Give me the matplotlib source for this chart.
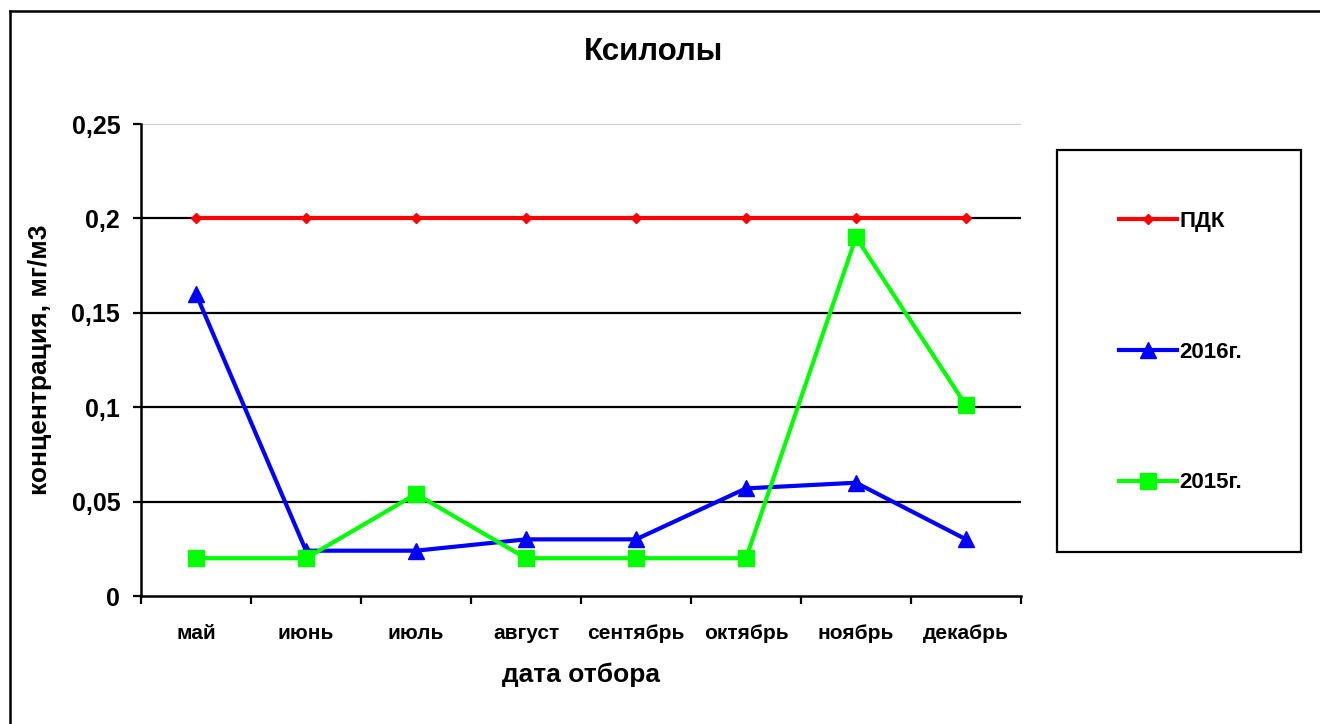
import matplotlib
matplotlib.use("Agg")
import matplotlib.pyplot as plt
from matplotlib.lines import Line2D
from matplotlib.patches import Rectangle
import numpy as np

plt.rcParams['font.family'] = ['Liberation Sans', 'DejaVu Sans']
plt.rcParams['font.weight'] = 'bold'

months = ["май", "июнь", "июль", "август", "сентябрь", "октябрь", "ноябрь", "декабрь"]
pdk = [0.2, 0.2, 0.2, 0.2, 0.2, 0.2, 0.2, 0.2]
y2016 = [0.16, 0.024, 0.024, 0.03, 0.03, 0.057, 0.06, 0.03]
y2015 = [0.02, 0.02, 0.054, 0.02, 0.02, 0.02, 0.19, 0.101]
yticks = [0, 0.05, 0.1, 0.15, 0.2, 0.25]
ytick_labels = ["0", "0,05", "0,1", "0,15", "0,2", "0,25"]

W, H = 1320, 724
fig = plt.figure(figsize=(W / 100, H / 100), dpi=100)
fig.patch.set_facecolor("white")

L, R, T, B = 141, 1021, 124, 596
ax = fig.add_axes([L / W, 1 - B / H, (R - L) / W, (B - T) / H])

x = np.arange(len(months))
ax.plot(x, pdk, color="#FF0000", lw=3, marker="D", ms=5, label="ПДК", zorder=3)
ax.plot(x, y2016, color="#0000FF", lw=3, marker="^", ms=12, label="2016г.", zorder=4)
ax.plot(x, y2015, color="#00FF00", lw=3, marker="s", ms=11, label="2015г.", zorder=5)

ax.set_xlim(-0.5, len(months) - 0.5)
ax.set_ylim(0, 0.25)

# gridlines
for yv in yticks[1:-1]:
    ax.axhline(yv, color="black", lw=1.6, zorder=1)
ax.axhline(yticks[-1], color="#C0C0C0", lw=1.2, zorder=1)

ax.set_yticks(yticks)
ax.set_yticklabels(ytick_labels, fontsize=18, fontweight="bold")
ax.tick_params(axis="y", length=6, width=1.6, pad=9, direction="out")

ax.set_xticks(x)
ax.set_xticklabels(months, fontsize=15, fontweight="bold")
ax.set_xticks(np.arange(-0.5, len(months)), minor=True)
ax.tick_params(axis="x", which="major", length=0, pad=20)
ax.tick_params(axis="x", which="minor", length=6, width=1.6, direction="out")

for s in ["top", "right"]:
    ax.spines[s].set_visible(False)
for s in ["left", "bottom"]:
    ax.spines[s].set_linewidth(1.8)
    ax.spines[s].set_color("black")

ax.set_xlabel("дата отбора", fontsize=19, fontweight="bold", labelpad=14)
ax.set_ylabel("концентрация, мг/м3", fontsize=19, fontweight="bold", labelpad=14)

fig.text(654 / W, 1 - 52 / H, "Ксилолы", fontsize=22.5, fontweight="bold",
         ha="center", va="center")

# legend box
lx0, ly0, lx1, ly1 = 1057, 150, 1301, 552
fig.add_artist(Rectangle((lx0 / W, 1 - ly1 / H), (lx1 - lx0) / W, (ly1 - ly0) / H,
                         transform=fig.transFigure, fill=False, edgecolor="black", lw=1.6))
leg = fig.legend(loc="center left", bbox_to_anchor=(1108 / W, 1 - 352 / H),
                 frameon=False, fontsize=16, labelspacing=4.95, handlelength=2.6,
                 handletextpad=0.1, borderpad=0)
for t in leg.get_texts():
    t.set_fontweight("bold")

# outer border (cropped frame)
fig.add_artist(Line2D([10 / W, 10 / W], [0, 1 - 11 / H], transform=fig.transFigure,
                      color="black", lw=1.8))
fig.add_artist(Line2D([10 / W, 1], [1 - 11 / H, 1 - 11 / H], transform=fig.transFigure,
                      color="black", lw=1.8))

fig.savefig("out.png", dpi=100, facecolor="white")
